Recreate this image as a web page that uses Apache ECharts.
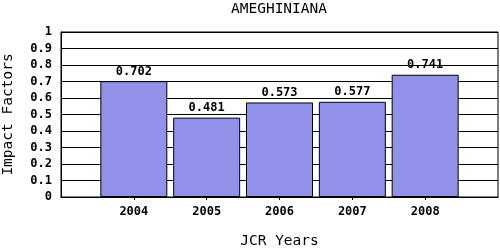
<!DOCTYPE html>
<html><head><meta charset="utf-8">
<script src="https://cdn.jsdelivr.net/npm/echarts@6/dist/echarts.min.js"></script>
<style>html,body{margin:0;padding:0;background:#fff}#c{width:500px;height:250px}</style>
</head><body><div id="c"></div>
<script>
const titleText = 'AMEGHINIANA';
const years = [2004, 2005, 2006, 2007, 2008];
const impactFactors = [0.702, 0.481, 0.573, 0.577, 0.741];
const yTicks = [0, 0.1, 0.2, 0.3, 0.4, 0.5, 0.6, 0.7, 0.8, 0.9, 1];

const font = 'DejaVu Sans Mono';
const chart = echarts.init(document.getElementById('c'));
chart.setOption({
  animation: false,
  backgroundColor: '#fff',
  title: { text: titleText, left: 279, top: 2, padding: 0, textAlign: 'center',
    textStyle: { fontFamily: font, fontSize: 14.5, fontWeight: 'normal', color: '#000' } },
  grid: { left: 61, right: 2, top: 32, bottom: 53, show: true, borderColor: '#000', borderWidth: 1,
    outerBoundsMode: 'none', containLabel: false },
  xAxis: {
    type: 'value', min: 2003, max: 2009, interval: 1,
    name: 'JCR Years', nameLocation: 'middle', nameGap: 37,
    nameTextStyle: { fontFamily: font, fontSize: 14.5, color: '#000' },
    axisLine: { show: true, lineStyle: { color: '#000' } },
    axisTick: { show: true, length: 3, customValues: years, lineStyle: { color: '#000' } },
    splitLine: { show: false },
    axisLabel: { fontFamily: font, fontSize: 12, fontWeight: 'bold', color: '#000', margin: 9,
      customValues: years, formatter: v => String(v) }
  },
  yAxis: {
    type: 'value', min: 0, max: 1, interval: 0.1,
    name: 'Impact Factors', nameLocation: 'middle', nameGap: 45,
    nameTextStyle: { fontFamily: font, fontSize: 14.5, color: '#000' },
    axisLine: { show: true, lineStyle: { color: '#000' } },
    axisTick: { show: false },
    splitLine: { show: true, lineStyle: { color: '#000', width: 1 } },
    axisLabel: { fontFamily: font, fontSize: 12, fontWeight: 'bold', color: '#000', margin: 9,
      formatter: v => String(Math.round(v * 10) / 10) }
  },
  series: [{
    type: 'bar', barWidth: 67,
    data: years.map((y, i) => [y, impactFactors[i]]),
    itemStyle: { color: '#9191E9', borderColor: '#000', borderWidth: 1 },
    label: { show: true, position: 'top', distance: 3.5, fontFamily: font, fontSize: 12, fontWeight: 'bold', color: '#000',
      formatter: p => impactFactors[p.dataIndex].toFixed(3) }
  }]
});
</script></body></html>
